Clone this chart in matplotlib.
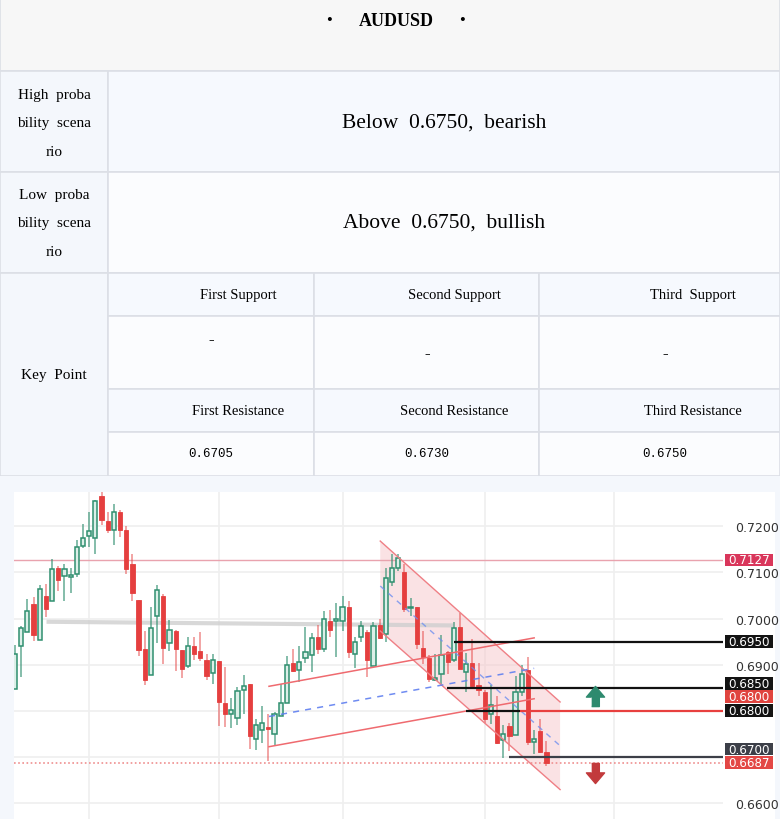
import matplotlib
matplotlib.use('Agg')
import matplotlib.pyplot as plt
from matplotlib.patches import Rectangle, Polygon
import numpy as np

# ---------------- data ----------------
title = "AUDUSD"
high_label = ["High  proba", "bility  scena", "rio"]
low_label = ["Low  proba", "bility  scena", "rio"]
high_text = "Below  0.6750,  bearish"
low_text = "Above  0.6750,  bullish"
support_headers = ["First Support", "Second Support", "Third  Support"]
support_values = ["\u2013", "\u2013", "\u2013"]
resist_headers = ["First Resistance", "Second Resistance", "Third Resistance"]
resist_values = ["0.6705", "0.6730", "0.6750"]

opens = [0.6848, 0.6941, 0.6970, 0.7031, 0.6954, 0.7049, 0.7037, 0.7110, 0.7092, 0.7089,
         0.7096, 0.7158, 0.7178, 0.7174, 0.7265, 0.7212, 0.7193, 0.7230, 0.7193, 0.7118,
         0.7041, 0.6933, 0.6877, 0.7005, 0.7049, 0.6946, 0.6973, 0.6931, 0.6896, 0.6940,
         0.6930, 0.6911, 0.6882, 0.6908, 0.6817, 0.6794, 0.6784, 0.6844, 0.6857, 0.6739,
         0.6759, 0.6764, 0.6750, 0.6788, 0.6816, 0.6904, 0.6889, 0.6915, 0.6920, 0.6960,
         0.6934, 0.6995, 0.6995, 0.6995, 0.7024, 0.6922, 0.6959, 0.6970, 0.6898, 0.6986,
         0.6966, 0.7080, 0.7109, 0.7100, 0.7023, 0.7024, 0.6936, 0.6914, 0.6867, 0.6880,
         0.6928, 0.6909, 0.6982, 0.6885, 0.6904, 0.6856, 0.6840, 0.6793, 0.6788, 0.6737,
         0.6767, 0.6747, 0.6840, 0.6889, 0.6733, 0.6757, 0.6711]
highs = [0.6942, 0.6983, 0.7042, 0.7047, 0.7072, 0.7074, 0.7129, 0.7113, 0.7119, 0.7110,
         0.7170, 0.7204, 0.7230, 0.7258, 0.7274, 0.7231, 0.7248, 0.7235, 0.7200, 0.7141,
         0.7041, 0.6973, 0.7025, 0.7072, 0.7054, 0.6996, 0.6976, 0.6931, 0.6960, 0.6961,
         0.6970, 0.6922, 0.6922, 0.6908, 0.6895, 0.6828, 0.6852, 0.6877, 0.6857, 0.6781,
         0.6810, 0.6793, 0.6797, 0.6857, 0.6918, 0.6934, 0.6940, 0.6981, 0.6969, 0.6986,
         0.7017, 0.7019, 0.7033, 0.7048, 0.7037, 0.6959, 0.6995, 0.6976, 0.6993, 0.6998,
         0.7109, 0.7140, 0.7140, 0.7118, 0.7044, 0.7025, 0.6972, 0.6920, 0.6923, 0.6964,
         0.6930, 0.6992, 0.7012, 0.6925, 0.6956, 0.6903, 0.6845, 0.6856, 0.6833, 0.6769,
         0.6773, 0.6876, 0.6899, 0.6916, 0.6759, 0.6782, 0.6735]
lows = [0.6848, 0.6873, 0.6970, 0.6952, 0.6954, 0.7003, 0.7037, 0.7059, 0.7037, 0.7056,
        0.7091, 0.7152, 0.7155, 0.7141, 0.7202, 0.7186, 0.7159, 0.7177, 0.7096, 0.7039,
        0.6918, 0.6855, 0.6877, 0.6947, 0.6901, 0.6929, 0.6886, 0.6872, 0.6893, 0.6911,
        0.6908, 0.6866, 0.6857, 0.6766, 0.6765, 0.6763, 0.6768, 0.6794, 0.6718, 0.6714,
        0.6730, 0.6690, 0.6724, 0.6788, 0.6816, 0.6885, 0.6863, 0.6904, 0.6883, 0.6923,
        0.6928, 0.6959, 0.6916, 0.6974, 0.6915, 0.6892, 0.6950, 0.6873, 0.6898, 0.6955,
        0.6948, 0.7070, 0.7102, 0.7015, 0.7006, 0.6934, 0.6901, 0.6862, 0.6865, 0.6858,
        0.6880, 0.6905, 0.6890, 0.6841, 0.6849, 0.6831, 0.6774, 0.6771, 0.6727, 0.6697,
        0.6713, 0.6747, 0.6833, 0.6726, 0.6706, 0.6708, 0.6681]
closes = [0.6922, 0.6979, 0.7016, 0.6965, 0.7063, 0.7020, 0.7108, 0.7083, 0.7108, 0.7094,
          0.7155, 0.7175, 0.7189, 0.7255, 0.7213, 0.7193, 0.7230, 0.7193, 0.7108, 0.7055,
          0.6931, 0.6866, 0.6980, 0.7061, 0.6935, 0.6976, 0.6934, 0.6891, 0.6941, 0.6924,
          0.6915, 0.6876, 0.6910, 0.6819, 0.6792, 0.6801, 0.6842, 0.6853, 0.6745, 0.6769,
          0.6773, 0.6761, 0.6794, 0.6816, 0.6899, 0.6887, 0.6905, 0.6928, 0.6957, 0.6934,
          0.6998, 0.6976, 0.6999, 0.7024, 0.6927, 0.6948, 0.6983, 0.6911, 0.6983, 0.6957,
          0.7087, 0.7109, 0.7131, 0.7021, 0.7026, 0.6945, 0.6917, 0.6869, 0.6872, 0.6920,
          0.6905, 0.6979, 0.6891, 0.6901, 0.6854, 0.6844, 0.6781, 0.6813, 0.6729, 0.6750,
          0.6746, 0.6840, 0.6880, 0.6733, 0.6739, 0.6711, 0.6687]

price_ticks = [0.6600, 0.6700, 0.6800, 0.6900, 0.7000, 0.7100, 0.7200]
time_grid = [12, 33, 53, 76, 97]

# tags on the price scale: value, colour
tag_values = [0.7127, 0.6950, 0.6850, 0.6800, 0.6800, 0.6700, 0.6687]
tag_colors = ['#d9365b', '#131313', '#131313', '#e0443f', '#131313', '#3c3f48', '#e34745']

# horizontal levels drawn from a bar index to the right edge
level_values = [0.6950, 0.6850, 0.6800, 0.6800, 0.6700]
level_start = [71.0, 69.9, 73.0, 81.7, 80.0]
level_end = [None, None, 81.7, None, None]
level_colors = ['#111111', '#111111', '#111111', '#e8403f', '#3c3f48']

# trend drawings (bar index, price)
flat_line_x = [5.1, 70.9]
flat_line_y = [0.6993, 0.6985]
down_ch_x = [59.1, 88.2]
down_ch_upper = [0.7168, 0.6819]
down_ch_lower = [0.6973, 0.6629]
up_ch_x = [41.1, 84.0]
up_ch_upper = [0.6853, 0.6958]
up_ch_lower = [0.6722, 0.6826]
up_arrow = (93.9, 0.6831)
down_arrow = (93.9, 0.6666)
last_price = 0.6687
ref_price = 0.7127

# ---------------- figure ----------------
W, H = 780, 820
fig = plt.figure(figsize=(W / 100, H / 100), dpi=100)
tax = fig.add_axes([0, 0, 1, 1])
tax.set_xlim(0, W)
tax.set_ylim(H, 0)
tax.axis('off')

border = '#dcdfe6'
lblue = '#f4f7fc'
def cell(x, y, w, h, fc):
    tax.add_patch(Rectangle((x, y), w, h, facecolor=fc, edgecolor=border, lw=1.2))

cell(0, 0, W, 72, '#f7f7f7')
cell(0, 72, 108, 101, lblue)
cell(108, 72, W - 108, 101, '#f6f9fe')
cell(0, 173, 108, 101, lblue)
cell(108, 173, W - 108, 101, '#fbfcfe')
cell(0, 274, 108, 203, lblue)
cols = [108, 314, 539, W]
rows = [(274, 317, '#f6f9fe'), (317, 390, '#fbfcfe'), (390, 433, '#f6f9fe'), (433, 477, '#fbfcfe')]
for (y0, y1, fc) in rows:
    for c in range(3):
        cell(cols[c], y0, cols[c + 1] - cols[c], y1 - y0, fc)
tax.add_patch(Rectangle((0, 477), W, H - 477, facecolor='#f4f7fc', edgecolor='none'))
tax.add_patch(Rectangle((14, 493), 761, H - 493, facecolor='white', edgecolor='none'))

serif = 'Liberation Serif'
tax.text(329, 21, '\u2022', ha='center', va='center', fontsize=12, family=serif)
tax.text(462, 21, '\u2022', ha='center', va='center', fontsize=12, family=serif)
tax.text(396, 21, title, ha='center', va='center', fontsize=13, family=serif, fontweight='bold')

for i, s in enumerate(high_label):
    tax.text(54, 95 + 29 * i, s, ha='center', va='center', fontsize=11, family=serif)
for i, s in enumerate(low_label):
    tax.text(54, 195 + 29 * i, s, ha='center', va='center', fontsize=11, family=serif)
tax.text(444, 123, high_text, ha='center', va='center', fontsize=15.5, family=serif)
tax.text(444, 223, low_text, ha='center', va='center', fontsize=15.5, family=serif)
tax.text(54, 376, 'Key  Point', ha='center', va='center', fontsize=11, family=serif)

hx = [238, 454, 693]
vx = [211, 427, 665]
vy = [340, 354, 354]
for i in range(3):
    tax.text(hx[i], 296, support_headers[i], ha='center', va='center', fontsize=10.5, family=serif)
    tax.text(vx[i], vy[i], support_values[i], ha='center', va='center', fontsize=8, family='DejaVu Sans')
    tax.text(hx[i], 412, resist_headers[i], ha='center', va='center', fontsize=10.5, family=serif)
    tax.text(vx[i], 454, resist_values[i], ha='center', va='center', fontsize=9, family='Liberation Mono')

# ---------------- chart ----------------
px_left, px_right, px_top, px_bot = 14, 723, 493, 820
ax = fig.add_axes([px_left / W, 1 - px_bot / H, (px_right - px_left) / W, (px_bot - px_top) / H])
ax.set_facecolor('white')
ax.set_xlim(-0.16, 114.56)
ax.set_ylim(0.65652, 0.72744)
for sp in ax.spines.values():
    sp.set_visible(False)
ax.set_yticks(price_ticks)
ax.set_xticks(time_grid)
ax.grid(True, color='#efefef', lw=1.2, zorder=0)
ax.set_axisbelow(True)
ax.tick_params(axis='x', length=0, labelbottom=False)
ax.yaxis.tick_right()
ax.set_yticklabels(['' if any(abs(t - v) < 1e-6 for v in tag_values) else f'{t:.4f}' for t in price_ticks])
ax.tick_params(axis='y', length=0, pad=9, labelsize=9, labelcolor='#333333')

idx = np.arange(len(opens))
o = np.array(opens); c = np.array(closes); h = np.array(highs); l = np.array(lows)
up = c >= o
green = '#2f8f6f'
red = '#e53f3f'
ax.vlines(idx[up], l[up], h[up], color=green, lw=1.1, alpha=0.75, zorder=3)
ax.vlines(idx[~up], l[~up], h[~up], color=red, lw=1.1, alpha=0.6, zorder=3)
bw = 0.68
ax.bar(idx[up], np.maximum(c[up] - o[up], 0.00012), bottom=o[up], width=bw,
       color='#dcefe8', edgecolor=green, lw=1.1, zorder=4)
ax.bar(idx[~up], np.maximum(o[~up] - c[~up], 0.00012), bottom=c[~up], width=bw,
       color=red, edgecolor=red, lw=0.6, zorder=4)

# reference lines
ax.axhline(ref_price, color='#e9a3ae', lw=1, zorder=2)
ax.axhline(last_price, color='#ef8f8f', lw=1.2, ls=(0, (1, 1.5)), zorder=2)

# flat grey line
ax.plot(flat_line_x, flat_line_y, color='#cfcfcf', lw=3, alpha=0.8, zorder=2, solid_capstyle='butt')

# descending channel
poly = [(down_ch_x[0], down_ch_upper[0]), (down_ch_x[1], down_ch_upper[1]),
        (down_ch_x[1], down_ch_lower[1]), (down_ch_x[0], down_ch_lower[0])]
ax.add_patch(Polygon(poly, closed=True, facecolor='#f6c6cb', alpha=0.5, edgecolor='none', zorder=1.5))
ax.plot(down_ch_x, down_ch_upper, color='#ef7f85', lw=1, zorder=5)
ax.plot(down_ch_x, down_ch_lower, color='#ef7f85', lw=1, zorder=5)
ax.plot(down_ch_x, [(a + b) / 2 for a, b in zip(down_ch_upper, down_ch_lower)],
        color='#6f8ff0', lw=1, ls=(0, (4, 4)), alpha=0.8, zorder=5)

# ascending channel
ax.plot(up_ch_x, up_ch_upper, color='#ef6a6f', lw=1.1, zorder=5)
ax.plot(up_ch_x, up_ch_lower, color='#ef6a6f', lw=1.1, zorder=5)
ax.plot(up_ch_x, [(a + b) / 2 for a, b in zip(up_ch_upper, up_ch_lower)],
        color='#5f7ff0', lw=1.1, ls=(0, (4, 4)), alpha=0.9, zorder=5)

# horizontal levels
xr = ax.get_xlim()[1]
for v, s, e, col in zip(level_values, level_start, level_end, level_colors):
    ax.plot([s, e if e is not None else xr], [v, v], color=col, lw=1.6, zorder=6, solid_capstyle='butt')

# arrows as markers
up_verts = [(-0.19, -0.5), (0.19, -0.5), (0.19, -0.03), (0.45, -0.03), (0, 0.5), (-0.45, -0.03), (-0.19, -0.03)]
dn_verts = [(x, -y) for x, y in up_verts]
ax.plot([up_arrow[0]], [up_arrow[1]], marker=up_verts, ms=14.5, color='#2e8a6e', ls='none', zorder=7)
ax.plot([down_arrow[0]], [down_arrow[1]], marker=dn_verts, ms=14.5, color='#c23a3c', ls='none', zorder=7)

# price tags with simple collision avoidance (from bottom up)
gap = 0.0030
order = sorted(range(len(tag_values)), key=lambda i: (tag_values[i], -i))
disp = {}
prev = None
for i in order:
    p = tag_values[i]
    if prev is not None and p < prev + gap:
        p = prev + gap
    disp[i] = p
    prev = p
yt = ax.get_yaxis_transform()
bh = 0.0028
bx, bwid = 1.003, 0.067
for i in range(len(tag_values)):
    p = disp[i]
    ax.add_patch(Rectangle((bx, p - bh / 2), bwid, bh, transform=yt, facecolor=tag_colors[i],
                           edgecolor='none', clip_on=False, zorder=8))
    ax.text(bx + bwid / 2, p, f'{tag_values[i]:.4f}', transform=yt, color='white', fontsize=8.6,
            ha='center', va='center', clip_on=False, zorder=9)

fig.savefig('out.png', dpi=100)
